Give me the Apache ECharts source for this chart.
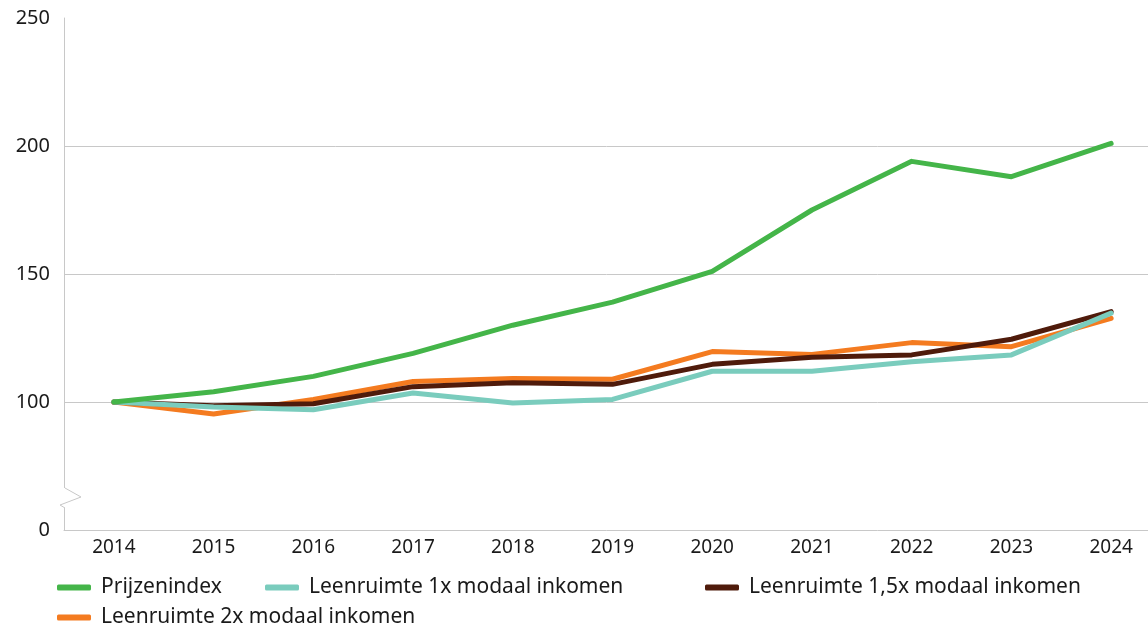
<!DOCTYPE html>
<html>
<head>
<meta charset="utf-8">
<script src="https://cdn.jsdelivr.net/npm/echarts@6/dist/echarts.min.js"></script>
<style>
  html, body { margin: 0; padding: 0; background: #fff; }
  #chart { width: 1148px; height: 629px; }
</style>
</head>
<body>
<div id="chart"></div>
<script>
// jaren
const years = ['2014', '2015', '2016', '2017', '2018', '2019', '2020', '2021', '2022', '2023', '2024']
// indexcijfers (2014 = 100)
const prijzenindex = [100, 104, 110, 119, 130, 139, 151, 175, 194, 188, 201]
const leen1x = [100, 98, 97, 103.5, 99.6, 101, 112, 112, 115.7, 118.4, 134.7]
const leen15x = [100, 98.5, 99.3, 106, 107.5, 106.9, 114.7, 117.5, 118.4, 124.5, 135.3]
const leen2x = [100, 95.3, 101, 108, 109.2, 108.9, 119.7, 118.6, 123.2, 121.6, 132.7]
// y-as: onderkant is onderbroken, 50 wordt als 0 getoond
const yTicks = [50, 100, 150, 200, 250]

const font = 'Noto Sans'
const axisGrey = '#c8c8c8'
const gridLeft = 64

const chart = echarts.init(document.getElementById('chart'))

const legendItem = (name, left, top) => ({
  data: [name],
  left: left,
  top: top,
  padding: 0,
  itemWidth: 34,
  itemHeight: 6,
  itemGap: 0,
  icon: 'roundRect',
  textStyle: { fontFamily: font, fontSize: 21, color: '#1a1a1a', padding: [0, 0, 0, 5] }
})

const lineSeries = (name, data, color, z) => ({
  name: name,
  type: 'line',
  data: data,
  symbol: 'none',
  z: z,
  lineStyle: { color: color, width: 5, cap: 'round', join: 'round' },
  itemStyle: { color: color }
})

chart.setOption({
  animation: false,
  grid: { left: gridLeft, width: 1097, top: 18, bottom: 99, outerBoundsMode: 'none', containLabel: false },
  legend: [
    legendItem('Prijzenindex', 57, 577),
    legendItem('Leenruimte 1x modaal inkomen', 265, 577),
    legendItem('Leenruimte 1,5x modaal inkomen', 705, 577),
    legendItem('Leenruimte 2x modaal inkomen', 57, 607)
  ],
  xAxis: {
    type: 'category',
    data: years,
    boundaryGap: true,
    axisLine: { lineStyle: { color: axisGrey, width: 1 } },
    axisTick: { alignWithLabel: true, inside: true, length: 13, lineStyle: { color: axisGrey } },
    axisLabel: { fontFamily: font, fontSize: 19, color: '#1a1a1a', margin: 8 }
  },
  yAxis: {
    type: 'value',
    min: 50,
    max: 250,
    interval: 50,
    axisLine: { show: true, lineStyle: { color: axisGrey, width: 1 } },
    axisTick: { show: false },
    splitLine: {
      show: true,
      lineStyle: { color: axisGrey, width: 1 },
      showMinLine: false,
      showMaxLine: false
    },
    axisLabel: {
      fontFamily: font, fontSize: 20, color: '#1a1a1a', margin: 14,
      formatter: v => (yTicks.indexOf(v) === 0 ? '0' : String(v))
    }
  },
  series: [
    lineSeries('Leenruimte 2x modaal inkomen', leen2x, '#f47b20', 2),
    lineSeries('Leenruimte 1,5x modaal inkomen', leen15x, '#4f1b0b', 3),
    lineSeries('Leenruimte 1x modaal inkomen', leen1x, '#7accbd', 4),
    lineSeries('Prijzenindex', prijzenindex, '#44b549', 5)
  ]
})

// onderbreking van de y-as tekenen
const yTop = chart.convertToPixel({ yAxisIndex: 0 }, 66.4)
const yBot = chart.convertToPixel({ yAxisIndex: 0 }, 58.6)
const yMid = (yTop + yBot) / 2
chart.setOption({
  graphic: [
    {
      type: 'rect',
      shape: { x: gridLeft - 3, y: yTop, width: 6, height: yBot - yTop },
      style: { fill: '#fff' },
      z: 10
    },
    {
      type: 'polyline',
      shape: {
        points: [
          [gridLeft + 1, yTop],
          [gridLeft + 17, yMid - 1],
          [gridLeft - 4, yMid + 7],
          [gridLeft + 1, yBot]
        ]
      },
      style: { stroke: axisGrey, lineWidth: 1, fill: null },
      z: 11
    }
  ]
})
</script>
</body>
</html>
